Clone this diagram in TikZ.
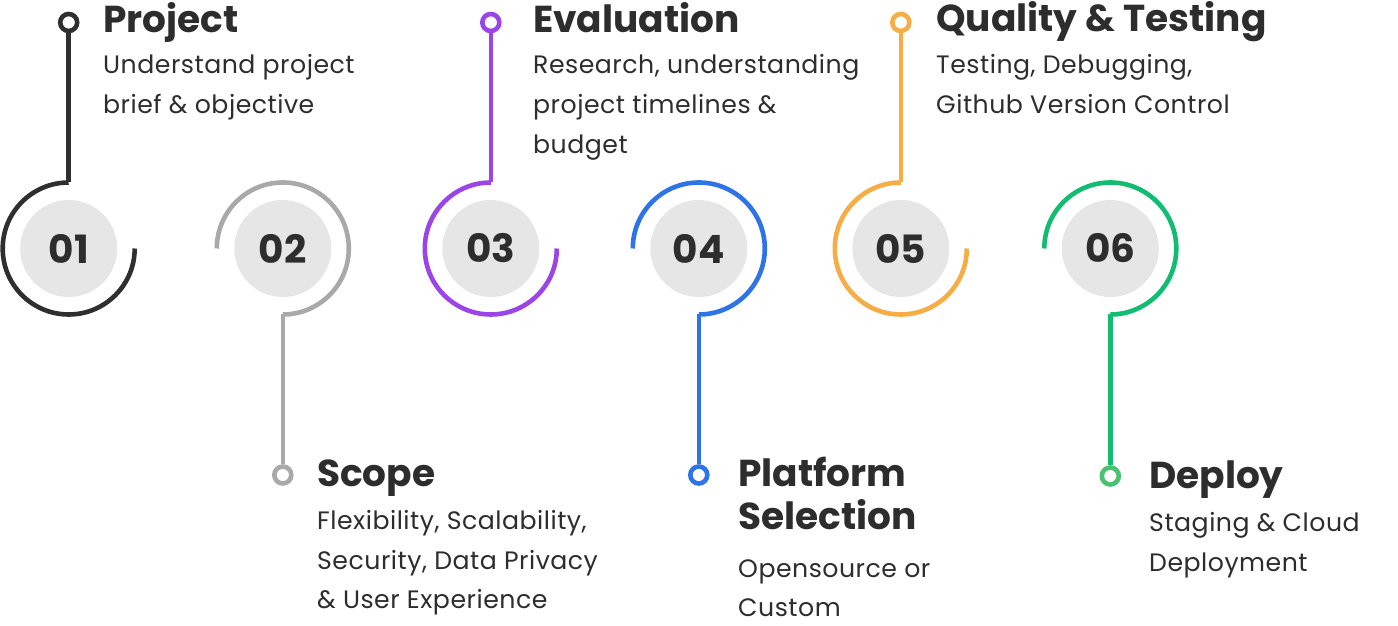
\documentclass[tikz,border=0pt]{standalone}
\usepackage{fontspec}
\setmainfont{Poppins}
\newfontfamily\spacedbody[LetterSpace=2]{Poppins}
\begin{document}
\definecolor{ink}{HTML}{2D2D2D}
\definecolor{disc}{HTML}{E6E6E6}
\definecolor{cA}{HTML}{2F2F2F}
\definecolor{cB}{HTML}{A9A9A9}
\definecolor{cC}{HTML}{9B45E8}
\definecolor{cD}{HTML}{2F74E6}
\definecolor{cE}{HTML}{F6AD46}
\definecolor{cF}{HTML}{12BD72}
\definecolor{cFring}{HTML}{4CC172}
\begin{tikzpicture}[x=1pt,y=1pt,
  numdisc/.style={circle, fill=disc, minimum size=97pt, inner sep=0pt,
    text=ink, font=\fontsize{39}{39}\selectfont\bfseries},
  ringmark/.style={circle, draw=#1, line width=4.6pt, fill=white,
    minimum size=17pt, inner sep=0pt},
  trackline/.style={draw=#1, line width=4.6pt},
  ttl/.style={anchor=base west, inner sep=0pt, text=ink,
    font=\fontsize{37.5}{37.5}\selectfont\bfseries},
  bodytxt/.style={anchor=base west, inner sep=0pt, text=ink,
    font=\spacedbody\fontsize{25.2}{40}\selectfont}]
\useasboundingbox (0,0) rectangle (1398,626);

% number discs
\node[numdisc] (c1) at (68.7,377.5) {01};
\node[numdisc] (c2) at (282.8,377.5) {02};
\node[numdisc] (c3) at (490.8,377.5) {03};
\node[numdisc] (c4) at (698.8,377.5) {04};
\node[numdisc] (c5) at (900.8,377.5) {05};
\node[numdisc] (c6) at (1110.3,377.5) {06};

% arcs: odd steps open to the upper right, even steps to the lower left
\draw[trackline=cA] (68.7,443.5) coordinate (a1) arc[start angle=90, end angle=360, radius=66];
\draw[trackline=cB] (216.8,377.5) arc[start angle=180, end angle=-90, radius=66] coordinate (a2);
\draw[trackline=cC] (490.8,443.5) coordinate (a3) arc[start angle=90, end angle=360, radius=66];
\draw[trackline=cD] (632.8,377.5) arc[start angle=180, end angle=-90, radius=66] coordinate (a4);
\draw[trackline=cE] (900.8,443.5) coordinate (a5) arc[start angle=90, end angle=360, radius=66];
\draw[trackline=cF] (1044.3,377.5) arc[start angle=180, end angle=-90, radius=66] coordinate (a6);

% ring markers
\node[ringmark=cA] (r1) at (68.7,603.5) {};
\node[ringmark=cB] (r2) at (282.8,151) {};
\node[ringmark=cC] (r3) at (490.8,603.5) {};
\node[ringmark=cD] (r4) at (698.8,151) {};
\node[ringmark=cE] (r5) at (900.8,603.5) {};
\node[ringmark=cFring] (r6) at (1110.3,150) {};

% stems
\draw[trackline=cA] (r1) -- (a1);
\draw[trackline=cB] (r2) -- (a2);
\draw[trackline=cC] (r3) -- (a3);
\draw[trackline=cD] (r4) -- (a4);
\draw[trackline=cE] (r5) -- (a5);
\draw[trackline=cF] (r6) -- (a6);

% step 1
\node[ttl] (t1) at (103,593.5) {Project};
\node[bodytxt] (b1a) at (103,552.5) {Understand project};
\node[bodytxt] (b1b) at (103,512.5) {brief \& objective};
% step 2
\node[ttl] (t2) at (317,139.3) {Scope};
\node[bodytxt] (b2a) at (317,96) {Flexibility, Scalability,};
\node[bodytxt] (b2b) at (317,56.5) {Security, Data Privacy};
\node[bodytxt] (b2c) at (317,17.5) {\& User Experience};
% step 3
\node[ttl] (t3) at (533,593.5) {Evaluation};
\node[bodytxt] (b3a) at (533,552.5) {Research, understanding};
\node[bodytxt] (b3b) at (533,512.5) {project timelines \&};
\node[bodytxt] (b3c) at (533,472.5) {budget};
% step 4
\node[ttl] (t4a) at (738,139.3) {Platform};
\node[ttl] (t4b) at (738,96.7) {Selection};
\node[bodytxt] (b4a) at (738,48.7) {Opensource or};
\node[bodytxt] (b4b) at (738,9.3) {Custom};
% step 5
\node[ttl] (t5) at (936,594) {Quality \& Testing};
\node[bodytxt] (b5a) at (936,552.5) {Testing, Debugging,};
\node[bodytxt] (b5b) at (936,512.5) {Github Version Control};
% step 6
\node[ttl] (t6) at (1149,137) {Deploy};
\node[bodytxt] (b6a) at (1149,94.3) {Staging \& Cloud};
\node[bodytxt] (b6b) at (1149,54.3) {Deployment};
\end{tikzpicture}
\end{document}
